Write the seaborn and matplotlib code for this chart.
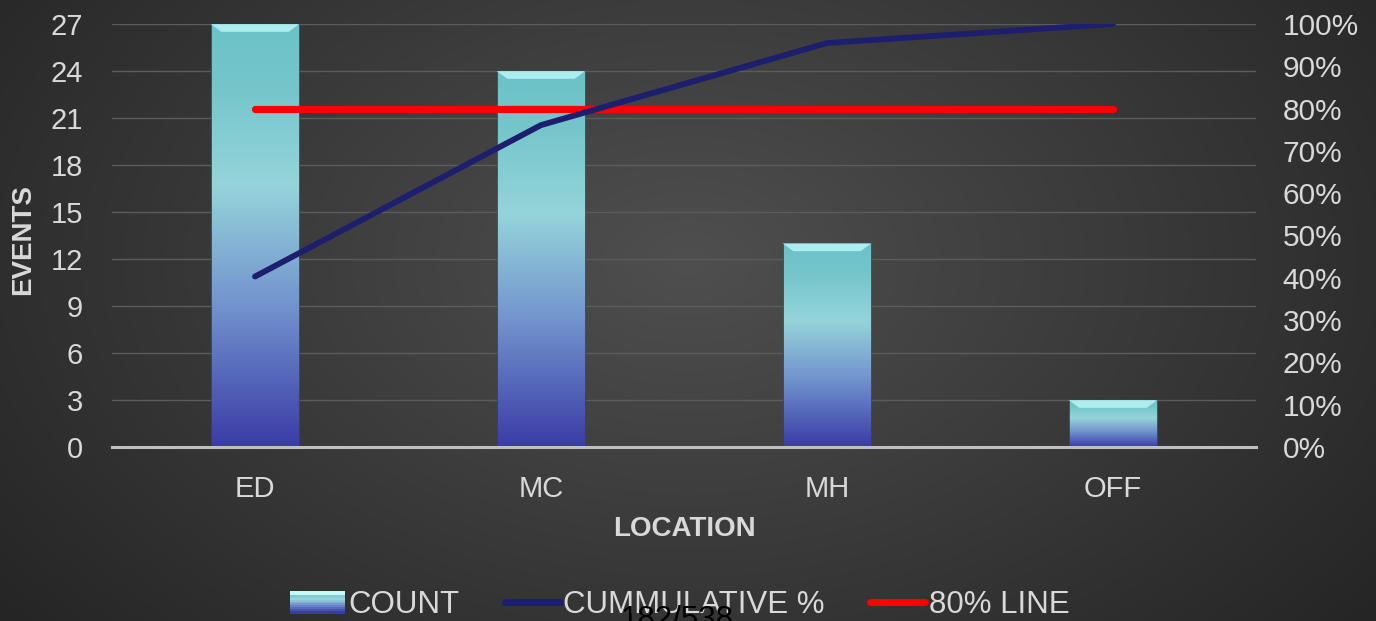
import numpy as np
import pandas as pd
import matplotlib
matplotlib.use("Agg")
import matplotlib.pyplot as plt
import seaborn as sns
from matplotlib.colors import LinearSegmentedColormap
from matplotlib.patches import Polygon, Rectangle
from matplotlib.lines import Line2D
from matplotlib.legend_handler import HandlerBase
from matplotlib.ticker import FuncFormatter

# ---------------- data ----------------
categories = ["ED", "MC", "MH", "OFF"]
counts = [27, 24, 13, 3]
cum_pct = [0.403, 0.761, 0.955, 1.000]
line80 = [0.80, 0.80, 0.80, 0.80]
left_ticks = [0, 3, 6, 9, 12, 15, 18, 21, 24, 27]
right_ticks = [0.0, 0.1, 0.2, 0.3, 0.4, 0.5, 0.6, 0.7, 0.8, 0.9, 1.0]
legend_labels = ["COUNT", "CUMMULATIVE %", "80% LINE"]
page_text = "182/538"

# ---------------- style ----------------
sns.set_theme(style="white")
plt.rcParams["font.family"] = ["Liberation Sans", "DejaVu Sans"]
TXT = "#d9d9d9"
NAVY = "#1e1e6e"
RED = "#ff0000"
bar_cmap = LinearSegmentedColormap.from_list(
    "bar", [(0.0, "#3a3ca6"), (0.35, "#7497cf"), (0.62, "#95d4da"), (0.85, "#74c6cb"), (1.0, "#6cc2c8")])

W, H = 1376, 621
fig = plt.figure(figsize=(W / 100, H / 100), dpi=100)

# background radial gradient
bg = fig.add_axes([0, 0, 1, 1], zorder=0)
yy, xx = np.mgrid[0:1:300j, 0:1:600j]
r = np.sqrt(((xx - 0.5) / 0.62) ** 2 + ((yy - 0.42) / 0.9) ** 2)
v = np.clip(0.31 - 0.16 * r, 0.14, 0.32)
bg.imshow(np.dstack([v, v, v]), extent=[0, 1, 0, 1], aspect="auto", origin="upper")
bg.set_axis_off()

left, right = 112 / W, 1256 / W
bottom, top = 1 - 447 / H, 1 - 24 / H
ax = fig.add_axes([left, bottom, right - left, top - bottom], zorder=1)
ax.patch.set_visible(False)

df = pd.DataFrame({"loc": categories, "count": counts, "cum": cum_pct, "l80": line80})
sns.barplot(data=df, x="loc", y="count", ax=ax, width=0.31, color="#7fa8d8", zorder=3)
ax.set_xlim(-0.5, 3.5)
ax.set_ylim(0, 27)

# gradient fill for bars
grad = np.linspace(0, 1, 256).reshape(-1, 1)
for p in list(ax.patches):
    x0, y0 = p.get_x(), p.get_y()
    w, h = p.get_width(), p.get_height()
    p.set_facecolor("none")
    p.set_edgecolor("#2d3f6e")
    p.set_linewidth(0.6)
    im = ax.imshow(grad, cmap=bar_cmap, extent=[x0, x0 + w, y0, y0 + h], origin="lower",
                   aspect="auto", zorder=2.9)
    im.set_clip_path(p)
    bh = 0.5
    dx = w * 0.12
    ax.add_patch(Polygon([(x0, y0 + h), (x0 + w, y0 + h), (x0 + w - dx, y0 + h - bh), (x0 + dx, y0 + h - bh)],
                         closed=True, facecolor="#b8f6f6", edgecolor="none", alpha=0.85, zorder=3.1))
ax.set_xlim(-0.5, 3.5)
ax.set_ylim(0, 27)

ax.set_yticks(left_ticks)
ax.yaxis.grid(True, color="#5c5c5c", linewidth=1.0, zorder=0)
ax.set_axisbelow(True)
for s in ["top", "left", "right"]:
    ax.spines[s].set_visible(False)
ax.spines["bottom"].set_color("#bfbfbf")
ax.spines["bottom"].set_linewidth(2.2)
ax.spines["bottom"].set_zorder(4)
ax.tick_params(axis="y", length=0, pad=21, labelsize=21, labelcolor=TXT)
ax.tick_params(axis="x", length=0, pad=20, labelsize=21, labelcolor=TXT)
ax.set_xlabel("LOCATION", fontsize=20, fontweight="bold", color=TXT)
ax.xaxis.set_label_coords(0.5, -0.163)
ax.set_ylabel("EVENTS", fontsize=20, fontweight="bold", color=TXT)
ax.yaxis.set_label_coords(-0.066, 0.49)

ax2 = ax.twinx()
ax2.set_zorder(2)
ax2.patch.set_visible(False)
sns.lineplot(data=df, x="loc", y="l80", ax=ax2, color=RED, linewidth=5.2, sort=False,
             solid_capstyle="round")
sns.lineplot(data=df, x="loc", y="cum", ax=ax2, color=NAVY, linewidth=4.2, sort=False,
             solid_capstyle="round")
ax2.set_ylim(0, 1)
ax2.set_xlim(-0.5, 3.5)
ax2.set_yticks(right_ticks)
ax2.yaxis.set_major_formatter(FuncFormatter(lambda v, _: f"{v * 100:.0f}%"))
ax2.tick_params(axis="y", length=0, pad=19, labelsize=21.5, labelcolor=TXT)
ax2.set_ylabel("")
ax2.grid(False)
for s in ["top", "left", "right", "bottom"]:
    ax2.spines[s].set_visible(False)


class GradHandler(HandlerBase):
    def create_artists(self, legend, orig_handle, xd, yd, width, height, fontsize, trans):
        arts = []
        n = 12
        for i in range(n):
            c = bar_cmap(1 - i / (n - 1))
            arts.append(Rectangle((xd, yd + height * (1 - (i + 1) / n) - 1), width, height / n + 1.2,
                                  facecolor=c, edgecolor="none", transform=trans))
        arts.append(Rectangle((xd, yd + height - 3), width, 3, facecolor="#c8fafa",
                              edgecolor="none", transform=trans))
        return arts


h_count = Rectangle((0, 0), 1, 1)
h_cum = Line2D([0], [0], color=NAVY, linewidth=5)
h_80 = Line2D([0], [0], color=RED, linewidth=5)
leg = fig.legend([h_count, h_cum, h_80], legend_labels, loc="center", bbox_to_anchor=(0.494, 0.026),
                 ncol=3, frameon=False, fontsize=22.5, handlelength=1.75, handletextpad=0.12,
                 columnspacing=1.45, handler_map={Rectangle: GradHandler()})
for t in leg.get_texts():
    t.set_color(TXT)

fig.text(0.492, -0.0113, page_text, ha="center", va="baseline", fontsize=22.5, color="black",
         zorder=10)

fig.savefig("out.png", dpi=100)
